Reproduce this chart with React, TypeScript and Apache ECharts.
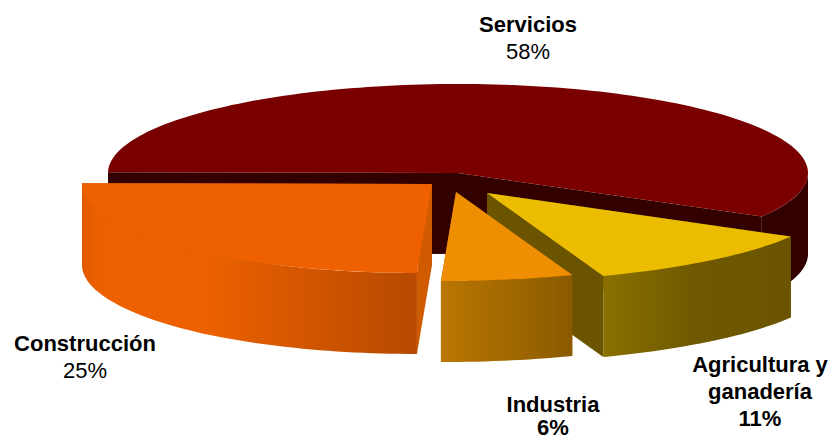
import React, { useEffect, useRef } from "react";
import * as echarts from "echarts";

const sectors = ["Servicios", "Agricultura y\nganadería", "Industria", "Construcción"];
const shares = [58, 11, 6, 25];

const WIDTH = 832;
const HEIGHT = 440;
const RX = 350;
const RY = 89;
const DEPTH = 81;
const START_DEG = 179.5;

const apexes = [
  [458, 173],
  [487, 193],
  [456, 192],
  [432, 184],
];
const labelAnchors = [
  [528, 38],
  [760, 391],
  [553, 412],
  [85, 357],
];
const labelWeights = ["normal", "bold", "bold", "normal"];
const nameLineHeights = [27, 27, 30, 27];
const shareLineHeights = [27, 27, 16, 27];
const topColors = ["#7a0000", "#ecbc00", "#ee8e00", "#ee6000"];
const faceColors = ["#330000", "#6a5400", "#8a5a00", "#d05a00"];
const wallStops = [
  [[0, "#330000"], [1, "#330000"]],
  [[0, "#8a7000"], [0.5, "#6e5800"], [1, "#6a5400"]],
  [[0, "#ba7600"], [1, "#8a5a00"]],
  [[0, "#e25a00"], [0.05, "#ec6000"], [0.38, "#ec6000"], [1, "#b64a00"]],
];

const total = shares.reduce((a, b) => a + b, 0);

function rim(ax: number, ay: number, deg: number): [number, number] {
  const r = (deg * Math.PI) / 180;
  const s = Math.sin(r);
  const lower = Math.max(0, -s);
  return [ax + RX * Math.cos(r) - 12 * lower * lower * lower, ay - RY * s];
}

function arc(ax: number, ay: number, from: number, to: number): [number, number][] {
  const n = Math.max(2, Math.ceil(Math.abs(from - to) / 1.5));
  const pts: [number, number][] = [];
  for (let i = 0; i <= n; i++) pts.push(rim(ax, ay, from + ((to - from) * i) / n));
  return pts;
}

function down(pts: [number, number][]): [number, number][] {
  return pts.map(([x, y]) => [x, y + DEPTH] as [number, number]).reverse();
}

function renderSlice(params: any, api: any) {
  const i = params.dataIndex;
  const before = shares.slice(0, i).reduce((a, b) => a + b, 0);
  const a0 = START_DEG - (before / total) * 360;
  const a1 = a0 - (api.value(0) / total) * 360;
  const [ax, ay] = apexes[i];
  const children: any[] = [];

  const face = (deg: number) => {
    const edge: [number, number][] = [[ax, ay], rim(ax, ay, deg)];
    children.push({
      type: "polygon",
      shape: { points: [...edge, ...down(edge)] },
      style: { fill: faceColors[i] },
    });
  };
  face(a0);
  face(a1);

  const wFrom = Math.min(a0, 0);
  const wTo = Math.max(a1, -180);
  if (wFrom > wTo) {
    const outer = arc(ax, ay, wFrom, wTo);
    children.push({
      type: "polygon",
      shape: { points: [...outer, ...down(outer)] },
      style: {
        fill: {
          type: "linear",
          x: 0,
          y: 0,
          x2: 1,
          y2: 0,
          colorStops: wallStops[i].map(([offset, color]) => ({ offset, color })),
        },
      },
    });
  }

  children.push({
    type: "polygon",
    shape: { points: [[ax, ay], ...arc(ax, ay, a0, a1)] },
    style: { fill: topColors[i] },
  });

  const lines = sectors[i].split("\n");
  const text =
    lines.map((l) => `{n|${l}}`).join("\n") + `\n{p|${api.value(0)}%}`;
  const rich: any = {
    n: {
      fontFamily: "Liberation Sans",
      fontSize: 22,
      fontWeight: "bold",
      lineHeight: nameLineHeights[i],
      fill: "#000",
      align: "center",
    },
    p: {
      fontFamily: "Liberation Sans",
      fontSize: 22,
      fontWeight: labelWeights[i],
      lineHeight: shareLineHeights[i],
      fill: "#000",
      align: "center",
    },
  };
  children.push({
    type: "text",
    x: labelAnchors[i][0],
    y: labelAnchors[i][1],
    style: { text, rich, align: "center", verticalAlign: "middle", fill: "#000" },
  });

  return { type: "group", children };
}

export default function App() {
  const ref = useRef<HTMLDivElement>(null);
  useEffect(() => {
    document.body.style.margin = "0";
    const chart = echarts.init(ref.current!, undefined, { renderer: "svg" });
    chart.setOption({
      animation: false,
      backgroundColor: "#ffffff",
      series: [
        {
          type: "custom",
          coordinateSystem: "none",
          clip: false,
          silent: true,
          data: shares.map((v, i) => ({ name: sectors[i], value: [v] })),
          renderItem: renderSlice,
        },
      ],
    });
    return () => chart.dispose();
  }, []);
  return <div ref={ref} style={{ width: WIDTH, height: HEIGHT }} />;
}
